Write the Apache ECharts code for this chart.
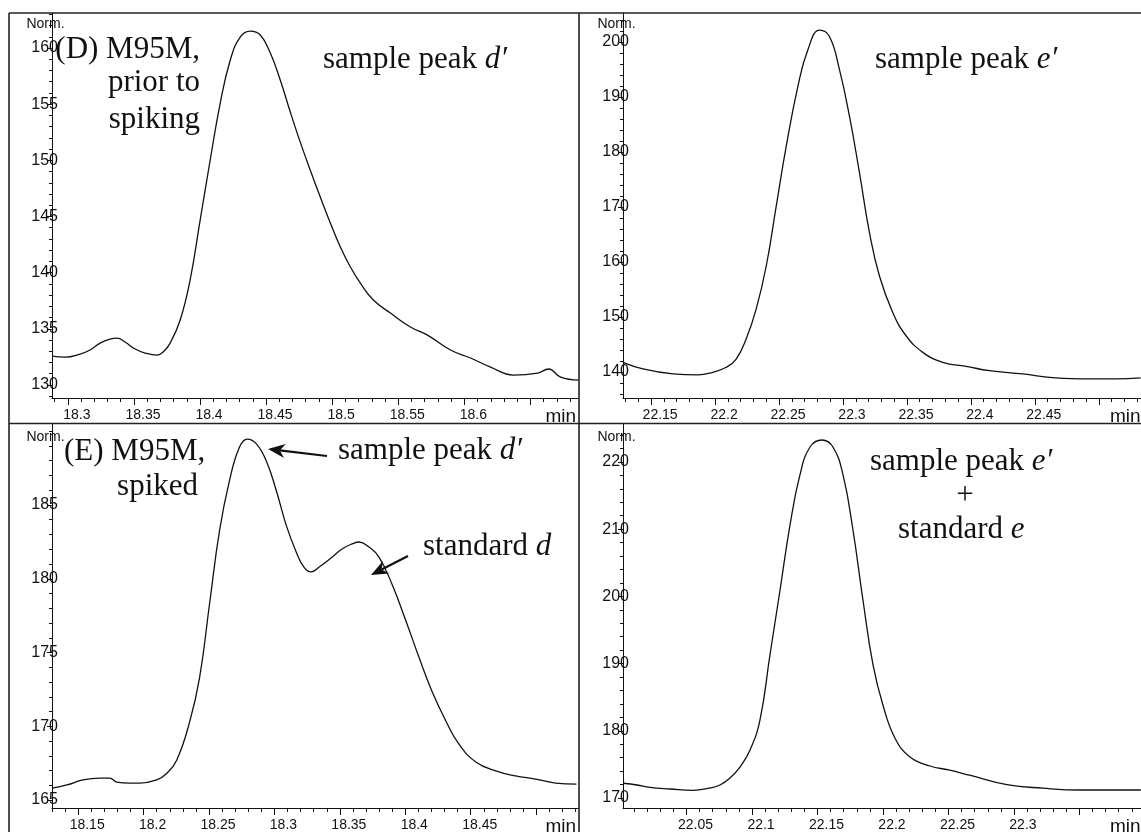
<!DOCTYPE html>
<html><head><meta charset="utf-8">
<script src="https://cdn.jsdelivr.net/npm/echarts@6/dist/echarts.min.js"></script>
<style>html,body{margin:0;padding:0;background:#fff}#c{width:1141px;height:832px}</style>
</head><body><div id="c"></div>
<script>
// ---------- data ----------
// Panel D: M95M prior to spiking, around sample peak d'
const dTime = [18.288,18.2978,18.3092,18.3168,18.3244,18.3319,18.3372,18.3433,18.3509,18.3585,18.3675,18.3721,18.3774,18.385,18.3925,18.4001,18.4077,18.4153,18.4229,18.4304,18.438,18.4456,18.4532,18.4607,18.4683,18.4759,18.4835,18.491,18.4986,18.5062,18.5138,18.5213,18.5312,18.5441,18.5592,18.5721,18.5895,18.6047,18.6198,18.6372,18.6554,18.6638,18.6729,18.6865];
const dSignal = [132.57,132.48,132.75,133.11,133.73,134.09,134.18,133.82,133.2,132.84,132.66,132.93,133.73,135.78,139.34,144.68,150.03,155.1,158.93,160.98,161.51,161.16,159.55,157.15,154.3,151.6,149.1,146.73,144.42,142.28,140.5,139.07,137.56,136.4,135.16,134.44,133.11,132.4,131.59,130.88,131.06,131.42,130.7,130.44];
// Panel E: M95M spiked (sample peak d' + standard d)
const eTime = [18.13,18.1414,18.1536,18.1666,18.1742,18.1795,18.1894,18.1971,18.21,18.2176,18.2253,18.2352,18.2428,18.2504,18.258,18.2656,18.2733,18.2794,18.2862,18.2938,18.3015,18.3091,18.3167,18.3228,18.3281,18.3342,18.3441,18.3517,18.3594,18.3647,18.3723,18.3799,18.3898,18.4005,18.4104,18.4203,18.431,18.4409,18.4539,18.4691,18.4843,18.4996,18.5148,18.5308];
const eSignal = [165.81,166.02,166.36,166.49,166.49,166.22,166.15,166.15,166.36,166.8,167.7,170.3,173.3,178.29,183.24,186.63,188.93,189.47,189.14,187.98,185.95,183.6,181.8,180.75,180.46,180.8,181.47,182.02,182.36,182.49,182.15,181.47,179.64,177.14,174.69,172.39,170.36,168.8,167.58,166.97,166.63,166.42,166.15,166.08];
// Panel F: sample peak e'
const fTime = [22.128,22.1436,22.1671,22.1866,22.1983,22.2087,22.2165,22.2243,22.2321,22.24,22.2478,22.2556,22.2647,22.2725,22.2817,22.2895,22.2973,22.3051,22.3129,22.3207,22.3285,22.3389,22.3493,22.3624,22.378,22.3962,22.4145,22.4405,22.4665,22.4926,22.5134,22.5327];
const fSignal = [141.76,140.55,139.64,139.46,139.95,140.85,142.36,145.98,151.42,159.27,170.15,181.02,191.9,198.55,202.17,200.96,194.92,186.46,176.2,165.33,157.46,150.82,146.59,143.57,141.76,141.03,140.24,139.64,138.92,138.73,138.73,138.92];
// Panel G: sample peak e' + standard e
const gTime = [22.0017,22.0122,22.0221,22.0374,22.0549,22.0679,22.0755,22.0832,22.0908,22.0985,22.1061,22.1137,22.1214,22.129,22.1366,22.1443,22.1534,22.1618,22.1695,22.1771,22.1847,22.1924,22.2,22.2092,22.2206,22.2359,22.2502,22.2669,22.2946,22.3221,22.3504,22.3779,22.3969];
const gSignal = [172.19,171.93,171.59,171.34,171.12,171.49,171.93,172.98,174.61,177.14,181.61,191.28,200.95,210.6,218.07,222.23,223.27,222.23,218.07,209.88,199.46,189.79,183.8,178.9,176.1,174.76,174.17,173.35,171.99,171.46,171.19,171.19,171.19];

// tick labels
const dXTicks = [18.3,18.35,18.4,18.45,18.5,18.55,18.6,18.65];
const dXLabels = ['18.3','18.35','18.4','18.45','18.5','18.55','18.6'];
const dYLabels = ['130','135','140','145','150','155','160'];
const eXTicks = [18.15,18.2,18.25,18.3,18.35,18.4,18.45,18.5];
const eXLabels = ['18.15','18.2','18.25','18.3','18.35','18.4','18.45'];
const eYLabels = ['165','170','175','180','185'];
const fXTicks = [22.15,22.2,22.25,22.3,22.35,22.4,22.45,22.5];
const fXLabels = ['22.15','22.2','22.25','22.3','22.35','22.4','22.45'];
const fYLabels = ['140','150','160','170','180','190','200'];
const gXTicks = [22.05,22.1,22.15,22.2,22.25,22.3,22.35];
const gXLabels = ['22.05','22.1','22.15','22.2','22.25','22.3'];
const gYLabels = ['170','180','190','200','210','220'];

// ---------- styling / layout ----------
const SANS = '"Liberation Sans", Arial, sans-serif';
const SERIF = '"Liberation Serif", "Times New Roman", serif';
const INK = '#111';

const panels = [
  {grid:{left:52, top:13, width:526, height:385}, x:[18.288,18.686], y:[128.84,163.12],
   xTicks:dXTicks, xLabels:dXLabels, xMinor:0.01, yLabels:dYLabels, yMinor:1, time:dTime, signal:dSignal, minRight:true},
  {grid:{left:52, top:424, width:526, height:384}, x:[18.13,18.532], y:[164.46,190.49],
   xTicks:eXTicks, xLabels:eXLabels, xMinor:0.01, yLabels:eYLabels, yMinor:1, time:eTime, signal:eSignal, minRight:true},
  {grid:{left:623, top:13, width:518, height:385}, x:[22.128,22.533], y:[135.27,205.27],
   xTicks:fXTicks, xLabels:fXLabels, xMinor:0.01, yLabels:fYLabels, yMinor:2, time:fTime, signal:fSignal, minRight:false},
  {grid:{left:623, top:424, width:518, height:384}, x:[22.0015,22.397], y:[168.51,225.65],
   xTicks:gXTicks, xLabels:gXLabels, xMinor:0.01, yLabels:gYLabels, yMinor:2, time:gTime, signal:gSignal, minRight:false}
];

function stepsBetween(min, max, step) {
  const out = [];
  const k0 = Math.ceil(min / step - 1e-6), k1 = Math.floor(max / step + 1e-6);
  for (let k = k0; k <= k1; k++) out.push(+(k * step).toFixed(4));
  return out;
}
function labelFmt(labels) {
  return v => { const s = labels.find(t => Math.abs(parseFloat(t) - v) < 1e-6); return s === undefined ? '' : s; };
}

const grids = [], xAxes = [], yAxes = [], series = [];
panels.forEach((p, i) => {
  grids.push(Object.assign({show:false, containLabel:false, outerBoundsMode:'none'}, p.grid));
  xAxes.push({
    type:'value', gridIndex:i, position:'bottom', min:p.x[0], max:p.x[1],
    axisLine:{show:true, onZero:false, lineStyle:{color:INK, width:1}},
    axisTick:{show:true, customValues:p.xTicks, length:7, lineStyle:{color:INK, width:1}},
    axisLabel:{show:true, customValues:p.xLabels.map(Number), formatter:labelFmt(p.xLabels),
      margin:10, color:INK, fontFamily:SANS, fontSize:14, padding:[0,0,0,18]},
    splitLine:{show:false},
    name:'min', nameLocation:'end', nameGap:p.minRight ? -2 : -31,
    nameTextStyle:{color:INK, fontFamily:SANS, fontSize:19, align:p.minRight ? 'right' : 'left', verticalAlign:'top', padding:[9,0,0,0]}
  });
  xAxes.push({
    type:'value', gridIndex:i, position:'bottom', min:p.x[0], max:p.x[1],
    axisLine:{show:false}, axisLabel:{show:false}, splitLine:{show:false},
    axisTick:{show:true, customValues:stepsBetween(p.x[0], p.x[1], p.xMinor), length:4, lineStyle:{color:INK, width:1}}
  });
  yAxes.push({
    type:'value', gridIndex:i, position:'left', min:p.y[0], max:p.y[1],
    axisLine:{show:true, onZero:false, lineStyle:{color:INK, width:1}},
    axisTick:{show:true, customValues:p.yLabels.map(Number), length:5, lineStyle:{color:INK, width:1}},
    axisLabel:{show:true, customValues:p.yLabels.map(Number), formatter:labelFmt(p.yLabels),
      margin:-6, color:INK, fontFamily:SANS, fontSize:16},
    splitLine:{show:false},
    name:'Norm.', nameLocation:'end', nameGap:(i % 2 === 0) ? -11 : -13,
    nameTextStyle:{color:INK, fontFamily:SANS, fontSize:14, align:'center', verticalAlign:'middle', padding:[0,13,0,0]}
  });
  yAxes.push({
    type:'value', gridIndex:i, position:'left', min:p.y[0], max:p.y[1],
    axisLine:{show:false}, axisLabel:{show:false}, splitLine:{show:false},
    axisTick:{show:true, customValues:stepsBetween(p.y[0], p.y[1], p.yMinor), length:3, lineStyle:{color:INK, width:1}}
  });
  series.push({
    type:'line', xAxisIndex:2 * i, yAxisIndex:2 * i,
    data:p.time.map((t, j) => [t, p.signal[j]]),
    showSymbol:false, symbol:'none', smooth:0.45, silent:true,
    lineStyle:{color:INK, width:1.3}
  });
});

// ---------- annotations ----------
function txt(x, y, text, align, rich) {
  const style = {text:text, fontFamily:SERIF, fontSize:31, fill:INK,
    align:align, verticalAlign:'middle', textAlign:align, textVerticalAlign:'middle'};
  if (rich) style.rich = {
    n:{fontFamily:SERIF, fontSize:31, color:INK},
    i:{fontFamily:SERIF, fontSize:31, fontStyle:'italic', color:INK}
  };
  return {type:'text', x:x, y:y, z:20, silent:true, style:style};
}
function frameLine(x1, y1, x2, y2) {
  return {type:'line', z:15, silent:true, shape:{x1, y1, x2, y2}, style:{stroke:'#222', lineWidth:1.6}};
}
function arrow(tail, tip) {
  const dx = tail[0] - tip[0], dy = tail[1] - tip[1], L = Math.hypot(dx, dy);
  const ux = dx / L, uy = dy / L, len = 17, half = 7;
  const bx = tip[0] + ux * len, by = tip[1] + uy * len;
  const nx = tip[0] + ux * len * 0.7, ny = tip[1] + uy * len * 0.7;
  return [
    {type:'line', z:20, silent:true, shape:{x1:tail[0], y1:tail[1], x2:nx, y2:ny}, style:{stroke:INK, lineWidth:2.2}},
    {type:'polygon', z:20, silent:true, shape:{points:[tip, [bx - uy * half, by + ux * half], [nx, ny], [bx + uy * half, by - ux * half]]}, style:{fill:INK}}
  ];
}

const graphic = [
  frameLine(9, 13, 9, 832),
  frameLine(579, 13, 579, 832),
  frameLine(9, 13, 1141, 13),
  frameLine(9, 423.5, 1141, 423.5),
  txt(200, 50, '(D) M95M,', 'right'),
  txt(200, 83, 'prior to', 'right'),
  txt(200, 120, 'spiking', 'right'),
  txt(323, 60, '{n|sample peak }{i|d\u2032}', 'left', true),
  txt(64, 452, '(E) M95M,', 'left'),
  txt(198, 487, 'spiked', 'right'),
  txt(338, 451, '{n|sample peak }{i|d\u2032}', 'left', true),
  txt(423, 547, '{n|standard }{i|d}', 'left', true),
  txt(875, 60, '{n|sample peak }{i|e\u2032}', 'left', true),
  txt(870, 462, '{n|sample peak }{i|e\u2032}', 'left', true),
  txt(965, 496, '+', 'center'),
  txt(898, 530, '{n|standard }{i|e}', 'left', true)
].concat(arrow([327, 456], [268, 449]), arrow([408, 556], [371, 575]));

const chart = echarts.init(document.getElementById('c'), null, {renderer:'canvas'});
chart.setOption({
  animation:false,
  backgroundColor:'#fff',
  grid:grids, xAxis:xAxes, yAxis:yAxes, series:series, graphic:graphic
});
</script></body></html>
